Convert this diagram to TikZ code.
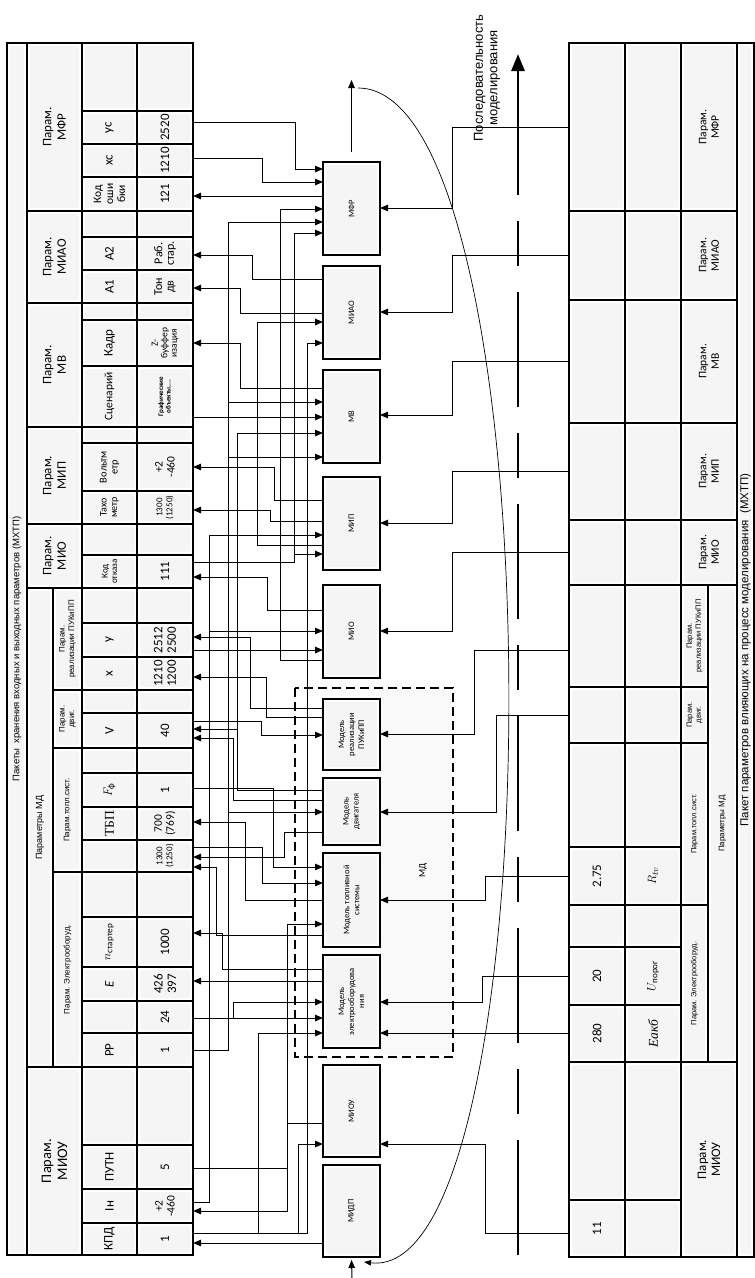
\documentclass[tikz,border=0pt]{standalone}
\usepackage{amsmath}
\usepackage{fontspec}
\setmainfont{Carlito}
\newfontfamily\arial{Liberation Sans}
\newfontfamily\tnr{Liberation Serif}
\usetikzlibrary{arrows.meta}
\newcommand\tcell[7][]{%
  \node[cellbox, minimum width={(#5)-(#3)}, minimum height={(#6)-(#4)}] (#2) at ({((#3)+(#5))/2},{((#4)+(#6))/2}) {};%
  \node[celltext,#1] (#2t) at (#2.center) {#7};}
\newcommand\mybox[4]{%
  \node[boxst, minimum height={(#3)-(#2)}] (#1) at (351.5,{((#2)+(#3))/2}) {};%
  \node[boxtext] (#1t) at (#1.center) {#4};}
\begin{document}
\begin{tikzpicture}[x=1pt,y=-1pt,
  cellbox/.style={draw, line width=1.1pt, fill=white, inner sep=0pt, outer sep=0pt,
    path picture={\fill[gray!8,rounded corners=1.5pt] ([xshift=3pt,yshift=-3pt]path picture bounding box.north west) rectangle ([xshift=-3pt,yshift=3pt]path picture bounding box.south east);}},
  celltext/.style={rotate=90, align=center, inner sep=0pt, font=\fontsize{11.5}{12}\selectfont},
  hdr/.style={font=\fontsize{13}{14.5}\selectfont},
  sub/.style={font=\arial\fontsize{8}{9.5}\selectfont},
  val/.style={font=\fontsize{13}{13.5}\selectfont},
  boxst/.style={cellbox, line width=1.2pt, minimum width=57pt},
  boxtext/.style={rotate=90, align=center, inner sep=0pt, font=\fontsize{8.5}{10}\selectfont},
  w/.style={line width=1pt},
  wa/.style={w, -{Triangle[length=8pt,width=6.5pt]}},
  wb/.style={line width=0.8pt, -{Triangle[length=8pt,width=6.5pt]}},
]
\useasboundingbox (0,0) rectangle (755,1278);
\fill[white] (0,0) rectangle (755,1278);

% ---------------- top table ----------------
\tcell[font=\arial\fontsize{9.5}{10}\selectfont]{ttl}{7}{43}{27}{1255}{Пакеты\ \ хранения входных и выходных параметров (МХТП)}
\tcell[hdr]{hMFR}{27}{43}{82}{211}{Парам.\\МФР}
\tcell[hdr]{hMIAO}{27}{211}{82}{303}{Парам.\\МИАО}
\tcell[hdr]{hMV}{27}{303}{82}{427}{Парам.\\МВ}
\tcell[hdr]{hMIP}{27}{427}{82}{524}{Парам.\\МИП}
\tcell[hdr]{hMIO}{27}{524}{82}{588}{Парам.\\МИО}
\tcell[font=\arial\fontsize{9}{10}\selectfont]{hMD}{27}{588}{53}{1067}{Параметры МД}
\tcell[sub]{hPUK}{53}{588}{82}{690}{Парам.\\реализации ПУКиПП}
\tcell[sub]{hDV}{53}{690}{82}{748}{Парам.\\двиг.}
\tcell[sub]{hTOP}{53}{748}{82}{872}{Парам.топл.сист.}
\tcell[sub]{hEL}{53}{872}{82}{1067}{Парам. Электрооборуд.}
\tcell[font=\fontsize{14.5}{16}\selectfont]{hMIOU}{27}{1067}{82}{1255}{Парам.\\МИОУ}

\tcell{l1}{82}{43}{137}{111}{}            \tcell{v1}{137}{43}{193}{111}{}
\tcell[val]{lYS}{82}{111}{137}{144}{ус}    \tcell[val]{vYS}{137}{111}{193}{144}{2520}
\tcell[val]{lXS}{82}{144}{137}{177}{хс}    \tcell[val]{vXS}{137}{144}{193}{177}{1210}
\tcell{lKO}{82}{177}{137}{211}{Код\\оши\\бки} \tcell[val]{vKO}{137}{177}{193}{211}{121}
\tcell{l5}{82}{211}{137}{237}{}           \tcell{v5}{137}{211}{193}{237}{}
\tcell[val]{lA2}{82}{237}{137}{270}{A2}    \tcell[font=\fontsize{12}{11.5}\selectfont]{vA2}{137}{237}{193}{270}{Раб.\\стар.}
\tcell[val]{lA1}{82}{270}{137}{303}{A1}    \tcell[font=\fontsize{12}{11.5}\selectfont]{vA1}{137}{270}{193}{303}{Тон\\дв}
\tcell{l8}{82}{303}{137}{320}{}           \tcell{v8}{137}{303}{193}{320}{}
\tcell[val]{lKD}{82}{320}{137}{366}{Кадр}  \tcell[font=\fontsize{9.5}{9.5}\selectfont]{vKD}{137}{320}{193}{366}{Z-\\буффер\\изация}
\tcell{lSC}{82}{366}{137}{427}{Сценарий}  \tcell[font=\bfseries\fontsize{7}{7.5}\selectfont]{vSC}{137}{366}{193}{427}{Графические\\объекты,...}
\tcell{l11}{82}{427}{137}{443}{}          \tcell{v11}{137}{427}{193}{443}{}
\tcell[font=\fontsize{10.5}{11}\selectfont]{lVM}{82}{443}{137}{491}{Вольтм\\етр} \tcell[font=\fontsize{11.5}{12}\selectfont]{vVM}{137}{443}{193}{491}{+2\\-460}
\tcell[font=\fontsize{10}{10.5}\selectfont]{lTH}{82}{491}{137}{524}{Тахо\\метр}   \tcell[font=\fontsize{9}{10}\selectfont]{vTH}{137}{491}{193}{524}{1300\\(1250)}
\tcell{l14}{82}{524}{137}{555}{}          \tcell{v14}{137}{524}{193}{555}{}
\tcell[font=\fontsize{9}{9.5}\selectfont]{lKOT}{82}{555}{137}{588}{Код\\отказа} \tcell[val]{vKOT}{137}{555}{193}{588}{111}
\tcell{l16}{82}{588}{137}{623}{}          \tcell{v16}{137}{588}{193}{623}{}
\tcell[val]{lY}{82}{623}{137}{657}{y}      \tcell[val]{vY}{137}{623}{193}{657}{2512\\2500}
\tcell[val]{lX}{82}{657}{137}{690}{x}      \tcell[val]{vX}{137}{657}{193}{690}{1210\\1200}
\tcell{l19}{82}{690}{137}{713}{}          \tcell{v19}{137}{690}{193}{713}{}
\tcell[val]{lV}{82}{713}{137}{748}{V}      \tcell[val]{vV}{137}{713}{193}{748}{40}
\tcell{l21}{82}{748}{137}{773}{}          \tcell{v21}{137}{748}{193}{773}{}
\tcell[val]{lF}{82}{773}{137}{807}{$F_{\text{ф}}$} \tcell[val]{vF}{137}{773}{193}{807}{1}
\tcell[font=\tnr\fontsize{13.5}{14}\selectfont]{lTBP}{82}{807}{137}{840}{ТБП} \tcell[font=\fontsize{11.5}{12}\selectfont]{vTBP}{137}{807}{193}{840}{700\\(769)}
\tcell{l24}{82}{840}{137}{872}{}          \tcell[font=\fontsize{9}{10}\selectfont]{vRPM}{137}{840}{193}{872}{1300\\(1250)}
\tcell{l25}{82}{872}{137}{917}{}          \tcell{v25}{137}{872}{193}{917}{}
\tcell[val]{lN}{82}{917}{137}{967}{$n_{\text{стартер}}$} \tcell[val]{vN}{137}{917}{193}{967}{1000}
\tcell[val]{lE}{82}{967}{137}{1001}{\textit{E}} \tcell[val]{vE}{137}{967}{193}{1001}{426\\397}
\tcell{l28}{82}{1001}{137}{1033}{}        \tcell[val]{v24}{137}{1001}{193}{1033}{24}
\tcell[val]{lPP}{82}{1033}{137}{1067}{РР}  \tcell[val]{vPP}{137}{1033}{193}{1067}{1}
\tcell{l30}{82}{1067}{137}{1145}{}        \tcell{v30}{137}{1067}{193}{1145}{}
\tcell[val]{lPUTN}{82}{1145}{137}{1189}{ПУТН} \tcell[val]{vPUTN}{137}{1145}{193}{1189}{5}
\tcell[val]{lIN}{82}{1189}{137}{1223}{Iн}  \tcell[font=\fontsize{11.5}{12}\selectfont]{vIN}{137}{1189}{193}{1223}{+2\\-460}
\tcell[val]{lKPD}{82}{1223}{137}{1255}{КПД} \tcell[val]{vKPD}{137}{1223}{193}{1255}{1}

% ---------------- bottom table ----------------
\tcell[font=\arial\fontsize{11.5}{12}\selectfont]{bttl}{737}{43}{754}{1257}{Пакет параметров влияющих на процесс моделирования\ \ (МХТП)}
\tcell[font=\fontsize{11.5}{12.5}\selectfont]{bhMFR}{681}{43}{737}{211}{Парам.\\МФР}
\tcell[font=\fontsize{11.5}{12.5}\selectfont]{bhMIAO}{681}{211}{737}{300}{Парам.\\МИАО}
\tcell[font=\fontsize{11.5}{12.5}\selectfont]{bhMV}{681}{300}{737}{423}{Парам.\\МВ}
\tcell[font=\fontsize{11.5}{12.5}\selectfont]{bhMIP}{681}{423}{737}{520}{Парам.\\МИП}
\tcell[font=\fontsize{11.5}{12.5}\selectfont]{bhMIO}{681}{520}{737}{585}{Парам.\\МИО}
\tcell[font=\arial\fontsize{7.5}{9}\selectfont]{bhPUK}{681}{585}{708}{687}{Парам.\\реализации ПУКиПП}
\tcell[font=\arial\fontsize{7.5}{9}\selectfont]{bhDV}{681}{687}{708}{743}{Парам.\\двиг.}
\tcell[font=\arial\fontsize{7.5}{9}\selectfont]{bhTOP}{681}{743}{708}{905}{Парам.топл.сист.}
\tcell[font=\arial\fontsize{7.5}{9}\selectfont]{bhEL}{681}{905}{708}{1062}{Парам. Электрооборуд.}
\tcell[font=\arial\fontsize{8}{9}\selectfont]{bhMD}{708}{585}{737}{1062}{Параметры МД}
\tcell[font=\fontsize{13}{14}\selectfont]{bhMIOU}{681}{1062}{737}{1257}{Парам.\\МИОУ}

\tcell{aMFR}{569}{43}{625}{211}{}     \tcell{bMFR}{625}{43}{681}{211}{}
\tcell{aMIAO}{569}{211}{625}{300}{}   \tcell{bMIAO}{625}{211}{681}{300}{}
\tcell{aMV}{569}{300}{625}{423}{}     \tcell{bMV}{625}{300}{681}{423}{}
\tcell{aMIP}{569}{423}{625}{520}{}    \tcell{bMIP}{625}{423}{681}{520}{}
\tcell{aMIO}{569}{520}{625}{585}{}    \tcell{bMIO}{625}{520}{681}{585}{}
\tcell{aPUK}{569}{585}{625}{687}{}    \tcell{bPUK}{625}{585}{681}{687}{}
\tcell{aDV}{569}{687}{625}{743}{}     \tcell{bDV}{625}{687}{681}{743}{}
\tcell{aT1}{569}{743}{625}{847}{}     \tcell{bT1}{625}{743}{681}{847}{}
\tcell[val]{a275}{569}{847}{625}{905}{2.75} \tcell[val]{bRtv}{625}{847}{681}{905}{$R_{tv}$}
\tcell{aE1}{569}{905}{625}{947}{}     \tcell{bE1}{625}{905}{681}{947}{}
\tcell[val]{a20}{569}{947}{625}{1005}{20}   \tcell[val]{bU}{625}{947}{681}{1005}{$U_{\text{порог}}$}
\tcell[val]{a280}{569}{1005}{625}{1062}{280} \tcell[font=\tnr\itshape\fontsize{13.5}{14}\selectfont]{bEakb}{625}{1005}{681}{1062}{Eакб}
\tcell{aM1}{569}{1062}{625}{1200}{}   \tcell{bM1}{625}{1062}{681}{1200}{}
\tcell[val]{a11}{569}{1200}{625}{1257}{11}  \tcell{b11}{625}{1200}{681}{1257}{}

% ---------------- MD dashed group ----------------
\fill[gray!5] (380,690) rectangle (451,1055);
\draw[line width=1.1pt, dash pattern=on 9pt off 5pt] (295,688) rectangle (453,1057);
\node[boxtext, font=\fontsize{9.5}{10}\selectfont] (mdl) at (423,870) {МД};

% ---------------- boxes ----------------
\mybox{mfr}{162}{255}{МФР}
\mybox{miao}{266}{359}{МИАО}
\mybox{mv}{370}{463}{МВ}
\mybox{mip}{477}{570}{МИП}
\mybox{mio}{585}{678}{МИО}
\mybox{puk}{699}{770}{Модель\\реализации\\ПУКиПП}
\mybox{dvig}{778}{845}{Модель\\двигателя}
\mybox{topl}{853}{947}{Модель топливной\\системы}
\mybox{elek}{955}{1048}{Модель\\электрооборудова\\ния}
\mybox{miou}{1065}{1157}{МИОУ}
\mybox{midp}{1165}{1257}{МИДП}

% ---------------- wires, left side ----------------
\draw[wa] (vYS.east|-0,122) -| (295,169) -- (mfr.west|-0,169);
\draw[wa] (vXS.east|-0,158) -| (262,182) -- (mfr.west|-0,182);
\draw[wa] (mfr.west|-0,196) -- (vKO.east|-0,196);
\draw[wa] (miao.west|-0,279) -| (252,255) -- (vA2.east|-0,255);
\draw[wa] (miao.west|-0,313) -| (240,288) -- (vA1.east|-0,288);
\draw[wa] (mv.west|-0,388) -| (240,343) -- (vKD.east|-0,343);
\draw[wa] (vSC.east|-0,417) -- (mv.west|-0,417);
\draw[wa] (mip.west|-0,500) -| (274,467) -- (vVM.east|-0,467);
\draw[wa] (mip.west|-0,521) -| (270,510) -- (vTH.east|-0,510);
\draw[wa] (mio.west|-0,610) -| (267,577) -- (vKOT.east|-0,577);
\draw[wa] (puk.west|-0,708) -| (250,637) -- (vY.east|-0,637);
\draw[wa] (puk.west|-0,717) -| (266,677) -- (vX.east|-0,677);
\draw[wa] (vV.east|-0,721) -| (261,735) -- (puk.west|-0,735);
\draw[wa] (dvig.west|-0,800) -| (233,738) -- (vV.east|-0,738);
\draw[wa] (dvig.west|-0,790) -| (237,729) -- (vV.east|-0,729);
\draw[wa] (237,729) |- (mv.west|-0,433);
\draw[wa] (topl.west|-0,900) -| (245,822) -- (vTBP.east|-0,822);
\draw[wa] (dvig.west|-0,832) -| (284,857) -- (vRPM.east|-0,857);
\draw[wa] (topl.west|-0,935) -| (216,867) -- (vRPM.east|-0,867);
\draw[wa] (vF.east|-0,788) -| (273,867) -- (topl.west|-0,867);
\draw[wa] (vRPM.east|-0,847) -| (262,883) -- (topl.west|-0,883);
\draw[wa] (miou.west|-0,1123) -| (287,1211) -- (vIN.east|-0,1211);
\draw[wa] (287,1123) |- (topl.west|-0,924);
\draw[w] (vPUTN.east|-0,1168) -- (287,1168);
\draw[wa] (elek.west|-0,969) -| (222,933) -- (vN.east|-0,933);
\draw[wa] (elek.west|-0,981) -- (vE.east|-0,981);
\draw[wa] (v24.east|-0,1018) -- (elek.west|-0,1018);
\draw[wa] (233,1018) |- (elek.west|-0,1002);
\draw[wa] (vIN.east|-0,1202) -| (209,535) -- (mip.west|-0,535);
\draw[wa] (209,631) -- (mio.west|-0,631);
\draw[wa] (vPP.east|-0,1050) -| (228,222) -- (mfr.west|-0,222);
\draw[wa] (228,402) -- (mv.west|-0,402);
\draw[wa] (228,457) -- (mv.west|-0,457);
\draw[wa] (228,812) -- (dvig.west|-0,812);
\draw[wa] (mio.west|-0,660) -| (280,209) -- (mfr.west|-0,209);
\draw[wa] (vKOT.east|-0,562) -| (294,233) -- (mfr.west|-0,233);
\draw[wa] (294,554) -- (mip.west|-0,554);
\draw[wa] (mip.west|-0,545) -| (257,322) -- (miao.west|-0,322);
\draw[wa] (vKPD.east|-0,1233) -| (307,343) -- (miao.west|-0,343);
\draw[wa] (258,1233) |- (elek.west|-0,1033);
\draw[wa] (298,1233) |- (miou.west|-0,1144);
\draw[wa] (vY.east|-0,650) -- (mio.west|-0,650);
\draw[wa] (midp.west|-0,1243) -- (vKPD.east|-0,1243);

% ---------------- wires, right side ----------------
\draw[wb] (aMFR.west) -| (452,208) -- (mfr.east|-0,208);
\draw[wb] (aMIAO.west) -| (452,312) -- (miao.east|-0,312);
\draw[wb] (aMV.west) -| (452,415) -- (mv.east|-0,415);
\draw[wb] (aMIP.west) -| (452,523) -- (mip.east|-0,523);
\draw[wb] (aMIO.west) -| (452,631) -- (mio.east|-0,631);
\draw[wb] (aPUK.west|-0,650) -| (474,734) -- (puk.east|-0,734);
\draw[wb] (aDV.west) -| (496,812) -- (dvig.east|-0,812);
\draw[wb] (a275.west) -| (485,900) -- (topl.east|-0,900);
\draw[wb] (a20.west) -| (482,1002) -- (elek.east|-0,1002);
\draw[wb] (a280.west|-0,1033) -- (elek.east|-0,1033);
\draw[wb] (a11.west|-0,1233) -| (485,1144) -- (miou.east|-0,1144);

% ---------------- sequence arrows ----------------
\draw[wa] ([yshift=10pt]mfr.north) -- ++(0,-72);
\coordinate (inb) at (352,1278);
\draw[wa] (inb) -- ([yshift=-3pt]midp.south);
\coordinate (cs) at (358,88);
\coordinate (ce) at (364,1262);
\draw[line width=0.7pt, -{Triangle[length=7pt,width=5.5pt]}] (cs) .. controls (557,88) and (557,1285) .. (ce);
\coordinate (sq1) at (518,1255);
\coordinate (sq2) at (518,80);
\coordinate (sq3) at (518,54);
\draw[line width=2.8pt, dash pattern=on 115pt off 26pt on 45pt off 26pt] (sq1) -- (sq2);
\draw[line width=2.8pt, -{Triangle[length=17pt,width=13pt]}] (sq2) -- (sq3);
\node[rotate=90, align=center, inner sep=0pt, font=\arial\fontsize{13}{14.5}\selectfont] (seq) at (487,78) {Последовательность\\моделирования};
\end{tikzpicture}
\end{document}
